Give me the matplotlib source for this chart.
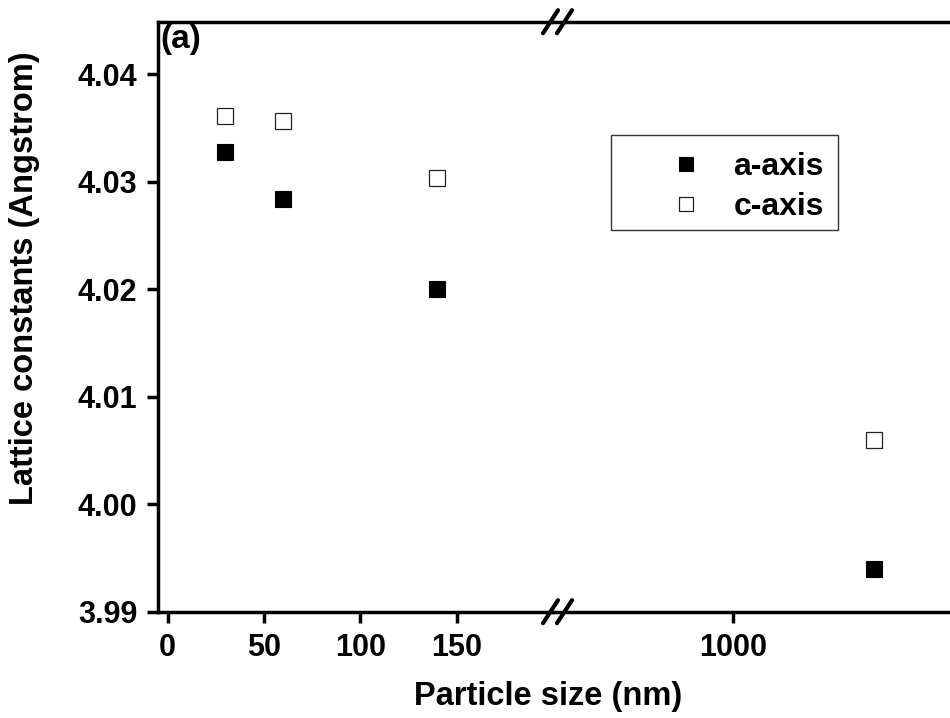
import matplotlib
matplotlib.use("Agg")
import matplotlib.pyplot as plt
from matplotlib.lines import Line2D
from matplotlib.patches import Rectangle

plt.rcParams["font.family"] = ["Liberation Sans", "DejaVu Sans"]
plt.rcParams["font.weight"] = "bold"

# data
particle_size = [30, 60, 140, 1300]
a_axis = [4.0328, 4.0284, 4.0200, 3.9940]
c_axis = [4.0361, 4.0357, 4.0304, 4.0060]

y_ticks = [3.99, 4.00, 4.01, 4.02, 4.03, 4.04]
x_ticks_left = [0, 50, 100, 150]
x_ticks_right = [1000]

W, H = 950, 718


def fx(px):
    return px / W


def fy(py):
    return 1 - py / H


fig = plt.figure(figsize=(W / 100, H / 100), dpi=100)

x0, xb, y_top, y_bot = 158, 553, 21.7, 611.7
ax1 = fig.add_axes([fx(x0), fy(y_bot), fx(xb - x0), (y_bot - y_top) / H])
ax2 = fig.add_axes([fx(xb), fy(y_bot), fx(W - xb), (y_bot - y_top) / H])

for ax in (ax1, ax2):
    la, = ax.plot(particle_size, a_axis, ls="none", marker="s", ms=12.2,
                  mfc="black", mec="black", mew=0.8, label="a-axis")
    lc, = ax.plot(particle_size, c_axis, ls="none", marker="s", ms=12.2,
                  mfc="white", mec="#222222", mew=0.9, label="c-axis")
    ax.set_ylim(3.99, 4.0449)
    for s in ax.spines.values():
        s.set_linewidth(2.5)
    ax.spines["right"].set_visible(False)
    ax.tick_params(axis="both", direction="out", length=8, width=2.5,
                   labelsize=22, pad=7, top=False, right=False)

ax1.set_xlim(-5, 200)
ax1.set_xticks(x_ticks_left)
ax1.set_yticks(y_ticks, [f"{v:.2f}" for v in y_ticks])

ax2.set_xlim(615, 1462)
ax2.set_xticks(x_ticks_right)
ax2.spines["left"].set_visible(False)
ax2.tick_params(axis="y", left=False, labelleft=False)

# break marks "//" on top and bottom axis lines
for xc in (550.5, 564.5):
    for yc in (y_top, y_bot):
        fig.add_artist(Line2D([fx(xc - 7.5), fx(xc + 7.5)],
                              [fy(yc + 11.5), fy(yc - 11.5)],
                              transform=fig.transFigure, color="black",
                              lw=3, solid_capstyle="round"))

fig.text(fx(548), fy(696), "Particle size (nm)", ha="center", va="center",
         fontsize=23.5, fontweight="bold")
fig.text(fx(25), fy(278), "Lattice constants (Angstrom)", ha="center",
         va="center", rotation=90, fontsize=23.5, fontweight="bold")
fig.text(fx(160), fy(24), "(a)", ha="left", va="top", fontsize=24,
         fontweight="bold")

ax2.legend([la, lc], ["a-axis", "c-axis"], loc="upper left",
           bbox_to_anchor=(fx(664), fy(152)), bbox_transform=fig.transFigure,
           frameon=False, borderpad=0, borderaxespad=0, handlelength=1.4,
           handletextpad=0.77, labelspacing=0.31, markerscale=0.82,
           prop={"size": 23, "weight": "bold"})
fig.add_artist(Rectangle((fx(611), fy(230)), fx(838 - 611), (230 - 135) / H,
                         transform=fig.transFigure, fill=False, lw=1,
                         ec="#333333"))

fig.savefig("out.png", dpi=100)
